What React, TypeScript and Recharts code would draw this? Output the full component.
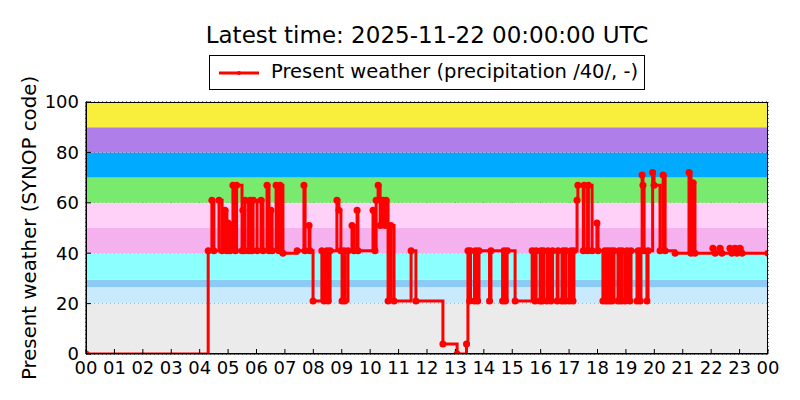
import { LineChart, Line, XAxis, YAxis, CartesianGrid, ReferenceArea } from 'recharts'

// change points of the present weather code (hour of day, SYNOP ww)
const times = [
  0.00, 4.30, 4.43, 4.50, 4.68, 4.79, 4.89, 4.96, 5.00, 5.07,
  5.17, 5.26, 5.30, 5.49, 5.52, 5.56, 5.60, 5.72, 5.78, 5.84,
  5.88, 6.02, 6.16, 6.23, 6.37, 6.44, 6.51, 6.55, 6.69, 6.79,
  6.83, 6.93, 7.43, 7.67, 7.71, 7.85, 7.88, 7.99, 8.30, 8.38,
  8.48, 8.52, 8.59, 8.83, 8.90, 8.97, 9.01, 9.08, 9.11, 9.22,
  9.36, 9.43, 9.54, 9.57, 10.10, 10.17, 10.21, 10.28, 10.35, 10.45,
  10.52, 10.56, 10.63, 10.73, 10.84, 11.44, 11.61, 12.56, 13.06, 13.39,
  13.44, 13.50, 13.53, 13.67, 13.71, 13.78, 13.83, 14.20, 14.25, 14.66,
  14.71, 14.76, 14.82, 15.10, 15.70, 15.80, 15.84, 15.98, 16.01, 16.06,
  16.10, 16.22, 16.26, 16.36, 16.42, 16.58, 16.61, 16.75, 16.79, 16.86,
  16.89, 17.01, 17.07, 17.14, 17.17, 17.28, 17.31, 17.50, 17.53, 17.65,
  17.68, 17.81, 17.98, 18.02, 18.19, 18.26, 18.30, 18.37, 18.41, 18.48,
  18.51, 18.58, 18.72, 18.76, 18.83, 18.86, 18.97, 19.04, 19.14, 19.18,
  19.39, 19.43, 19.50, 19.53, 19.57, 19.60, 19.64, 19.74, 19.78, 19.94,
  19.99, 20.20, 20.31, 20.38, 20.73, 21.22, 21.29, 21.36, 21.43, 22.06,
  22.14, 22.31, 22.38, 22.66, 22.73, 22.84, 22.91, 23.01, 23.09, 24.00,
]
const codes = [
  0, 41, 61, 41, 61, 41, 57, 41, 52, 41,
  67, 41, 67, 41, 57, 41, 61, 41, 61, 41,
  61, 41, 61, 41, 67, 41, 57, 41, 67, 41,
  67, 40, 41, 67, 41, 51, 41, 21, 41, 21,
  41, 21, 41, 61, 57, 41, 21, 41, 21, 41,
  51, 41, 57, 41, 57, 41, 61, 67, 51, 61,
  51, 61, 21, 51, 21, 41, 21, 4, 0, 4,
  41, 21, 41, 21, 41, 21, 41, 21, 41, 21,
  41, 21, 41, 21, 41, 21, 41, 21, 41, 21,
  41, 21, 41, 21, 41, 21, 41, 21, 41, 21,
  41, 21, 41, 21, 41, 61, 67, 41, 67, 41,
  67, 41, 52, 41, 21, 41, 21, 41, 21, 41,
  21, 41, 21, 41, 21, 41, 21, 41, 21, 41,
  21, 41, 21, 41, 71, 67, 41, 21, 41, 72,
  67, 41, 71, 41, 40, 72, 40, 68, 40, 42,
  40, 42, 40, 42, 40, 42, 40, 42, 40, 40,
]

const hourTicks = [0, 1, 2, 3, 4, 5, 6, 7, 8, 9, 10, 11, 12, 13, 14, 15, 16, 17, 18, 19, 20, 21, 22, 23, 24]
const hourLabels = ['00', '01', '02', '03', '04', '05', '06', '07', '08', '09', '10', '11', '12',
  '13', '14', '15', '16', '17', '18', '19', '20', '21', '22', '23', '00']
const codeTicks = [0, 20, 40, 60, 80, 100]

// background bands of the code groups
const bandFrom = [0, 20, 26.5, 29.5, 40, 50, 60, 70, 80, 90]
const bandTo = [20, 26.5, 29.5, 40, 50, 60, 70, 80, 90, 100]
const bandColors = ['#ebebeb', '#c8eafc', '#8ccbf5', '#8cffff', '#f5b0ee', '#ffd0f8', '#78ea6e', '#00aaff', '#b07ee8', '#f7ef3b']

const font = "'DejaVu Sans', sans-serif"
const tickFont = { fill: '#000', fontSize: 18, fontFamily: font }
const blank = () => ''

export default function App() {
  const data = times.map((t, i) => ({ t, code: codes[i] }))

  return (
    <div style={{ position: 'absolute', left: 0, top: 0, width: 800, height: 400, background: '#fff', fontFamily: font }}>
      <div style={{ position: 'absolute', left: 427, top: 35, transform: 'translate(-50%, -50%)', fontSize: 23, lineHeight: 1, whiteSpace: 'nowrap' }}>
        Latest time: 2025-11-22 00:00:00 UTC
      </div>
      <div style={{ position: 'absolute', left: 209, top: 55, width: 434, height: 33, border: '1px solid #000', background: '#fff' }}>
        <svg width={50} height={33} style={{ position: 'absolute', left: 0, top: 0 }}>
          <line x1={9} y1={17} x2={49} y2={17} stroke="#ff0000" strokeWidth={3} />
          <circle cx={29} cy={17} r={2} fill="#ff0000" />
        </svg>
        <span style={{ position: 'absolute', left: 61, top: 16, transform: 'translateY(-50%)', fontSize: 19.5, lineHeight: 1, whiteSpace: 'nowrap' }}>
          Present weather (precipitation /40/, -)
        </span>
      </div>
      <div style={{ position: 'absolute', left: 30, top: 228, transform: 'translate(-50%, -50%) rotate(-90deg)', fontSize: 19.8, lineHeight: 1, whiteSpace: 'nowrap' }}>
        Present weather (SYNOP code)
      </div>

      <LineChart width={800} height={400} data={data} margin={{ top: 102, right: 32, bottom: 16, left: 0 }}>
        {bandFrom.map((y1, i) => (
          <ReferenceArea key={i} x1={0} x2={24} y1={y1} y2={bandTo[i]} fill={bandColors[i]} fillOpacity={1} stroke="none" ifOverflow="hidden" />
        ))}
        <CartesianGrid stroke="#000" strokeDasharray="1 3" strokeWidth={1} />
        <XAxis dataKey="t" type="number" domain={[0, 24]} ticks={hourTicks} allowDataOverflow
          tickFormatter={(v: number) => hourLabels[hourTicks.indexOf(v)]}
          tick={tickFont} tickLine={{ stroke: '#000' }} tickSize={-5} tickMargin={12}
          axisLine={{ stroke: '#000' }} height={30} interval={0} />
        <XAxis xAxisId="top" orientation="top" type="number" domain={[0, 24]} ticks={hourTicks} allowDataOverflow
          tickFormatter={blank} tick={tickFont} tickLine={{ stroke: '#000' }} tickSize={-5} tickMargin={0}
          axisLine={{ stroke: '#000' }} height={0} interval={0} />
        <YAxis type="number" domain={[0, 100]} ticks={codeTicks} allowDataOverflow
          tick={tickFont} tickLine={{ stroke: '#000' }} tickSize={-5} tickMargin={12}
          axisLine={{ stroke: '#000' }} width={86} interval={0} />
        <YAxis yAxisId="right" orientation="right" type="number" domain={[0, 100]} ticks={codeTicks} allowDataOverflow
          tickFormatter={blank} tick={tickFont} tickLine={{ stroke: '#000' }} tickSize={-5} tickMargin={0}
          axisLine={{ stroke: '#000' }} width={0} interval={0} />
        <Line dataKey="code" type="stepAfter" stroke="#ff0000" strokeWidth={3}
          dot={{ r: 3.5, fill: '#ff0000', stroke: 'none' }} isAnimationActive={false} />
      </LineChart>
      <div style={{ position: 'absolute', left: 86, top: 102, width: 682, height: 252, border: '1px solid #000', boxSizing: 'border-box', marginLeft: -0.5, marginTop: -0.5, pointerEvents: 'none' }} />
    </div>
  )
}
